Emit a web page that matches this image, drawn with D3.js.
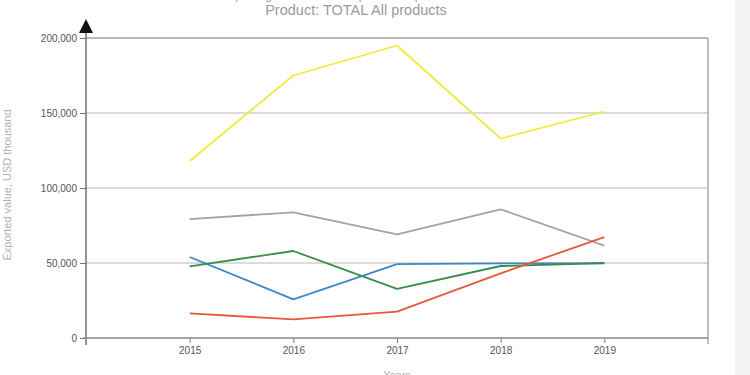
<!DOCTYPE html>
<html>
<head>
<meta charset="utf-8">
<script src="https://cdn.jsdelivr.net/npm/d3@7"></script>
<style>
  html, body { margin: 0; padding: 0; background: #fff; }
  svg { display: block; }
</style>
</head>
<body>
<svg id="chart" width="750" height="375"></svg>
<script>
// ---- data ----
const years = [2015, 2016, 2017, 2018, 2019];
const yellowValues = [118000, 175000, 195000, 133000, 151000];
const greyValues   = [79300, 83800, 69100, 85800, 61600];
const blueValues   = [54000, 25800, 49300, 49800, 49800];
const greenValues  = [47800, 58000, 32700, 48000, 50000];
const redValues    = [16400, 12400, 17600, 43100, 67300];
const yTicks = [0, 50000, 100000, 150000, 200000];
const titleText = "List of importing markets for the product exported in 2015 - 2019";
const subtitleText = "Product: TOTAL All products";
const yAxisTitle = "Exported value, USD thousand";
const xAxisTitle = "Years";

const seriesList = [
  { name: "yellow", values: yellowValues, color: "#eeea3e" },
  { name: "grey",   values: greyValues,   color: "#a3a3a3" },
  { name: "blue",   values: blueValues,   color: "#3f88c5" },
  { name: "green",  values: greenValues,  color: "#3a8c4c" },
  { name: "red",    values: redValues,    color: "#e8563e" }
];

const svg = d3.select("#chart");
const mLeft = 86, mRight = 708, mTop = 38, mBottom = 338;

const x = d3.scaleLinear().domain([2014, 2020]).range([mLeft, mRight]);
const y = d3.scaleLinear().domain([0, 200000]).range([mBottom, mTop]);

// right grey strip
svg.append("rect").attr("x", 735).attr("y", 0).attr("width", 15).attr("height", 375).attr("fill", "#f2f2f2");

// titles (first line is mostly cut off at the top, as in the reference)
svg.append("text").attr("x", 358).attr("y", -1).attr("text-anchor", "middle")
  .attr("font-family", "Liberation Sans, Arial, sans-serif")
  .attr("font-size", 12).attr("fill", "#9a9a9a").text(titleText);
svg.append("text").attr("x", 356).attr("y", 14.5).attr("text-anchor", "middle")
  .attr("font-family", "Liberation Sans, Arial, sans-serif")
  .attr("font-size", 14.5).attr("fill", "#9a9a9a").text(subtitleText);

// gridlines
svg.append("g").selectAll("line").data(yTicks.filter(d => d > 0)).join("line")
  .attr("x1", mLeft).attr("x2", mRight)
  .attr("y1", d => y(d)).attr("y2", d => y(d))
  .attr("stroke", d => d === 200000 ? "#a0a0a0" : "#cfcfcf").attr("stroke-width", d => d === 200000 ? 1.5 : 1.3);

// right frame
svg.append("line").attr("x1", mRight).attr("x2", mRight).attr("y1", mTop).attr("y2", mBottom + 6)
  .attr("stroke", "#a8a8a8").attr("stroke-width", 1.5);

// y axis
const yAxis = d3.axisLeft(y).tickValues(yTicks).tickSize(6).tickPadding(3)
  .tickFormat(d3.format(","));
const gy = svg.append("g").attr("transform", `translate(${mLeft},0)`).call(yAxis);
gy.select(".domain").remove();
gy.selectAll(".tick line").attr("stroke", "#777");
gy.selectAll(".tick text").attr("fill", "#555").attr("font-size", 10)
  .attr("font-family", "Liberation Sans Narrow, Liberation Sans, Arial, sans-serif");
svg.append("line").attr("x1", mLeft).attr("x2", mLeft).attr("y1", 30).attr("y2", mBottom + 7)
  .attr("stroke", "#6f6f6f").attr("stroke-width", 1.5);
svg.append("path").attr("d", `M${mLeft},19 L${mLeft + 7},33 L${mLeft - 7},33 Z`).attr("fill", "#111");

// x axis
const xAxis = d3.axisBottom(x).tickValues(years).tickSize(5).tickPadding(4).tickFormat(d3.format("d"));
const gx = svg.append("g").attr("transform", `translate(0,${mBottom})`).call(xAxis);
gx.select(".domain").remove();
gx.selectAll(".tick line").attr("stroke", "#777");
gx.selectAll(".tick text").attr("fill", "#555").attr("font-size", 10)
  .attr("font-family", "Liberation Sans Narrow, Liberation Sans, Arial, sans-serif");
svg.append("line").attr("x1", mLeft - 3).attr("x2", mRight).attr("y1", mBottom).attr("y2", mBottom)
  .attr("stroke", "#8a8a8a").attr("stroke-width", 1.5);

// axis titles
svg.append("text").attr("transform", "translate(11,185) rotate(-90)").attr("text-anchor", "middle")
  .attr("font-family", "Liberation Sans, Arial, sans-serif").attr("font-size", 11)
  .attr("fill", "#b0b0b0").text(yAxisTitle);
svg.append("text").attr("x", 397).attr("y", 379).attr("text-anchor", "middle")
  .attr("font-family", "Liberation Sans, Arial, sans-serif").attr("font-size", 11)
  .attr("fill", "#b0b0b0").text(xAxisTitle);

// lines
const line = d3.line().x((d, i) => x(years[i])).y(d => y(d));
svg.append("g").selectAll("path").data(seriesList).join("path")
  .attr("d", s => line(s.values))
  .attr("fill", "none").attr("stroke", s => s.color).attr("stroke-width", 1.8)
  .attr("stroke-linejoin", "round");
</script>
</body>
</html>
